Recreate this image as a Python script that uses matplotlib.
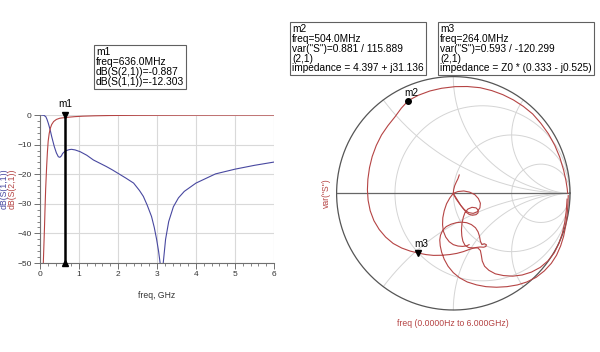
import numpy as np
import matplotlib
matplotlib.use("Agg")
import matplotlib.pyplot as plt
from matplotlib.ticker import MultipleLocator

plt.rcParams['font.family'] = ['Liberation Sans', 'DejaVu Sans']

# dB(S(1,1)), two branches around the null
f_s11_a = [0, 0.1, 0.15, 0.18, 0.213, 0.26, 0.3, 0.367, 0.42, 0.47, 0.51, 0.55, 0.58,
           0.636, 0.68, 0.75, 0.81, 0.9, 1.03, 1.2, 1.37, 1.55, 1.7, 1.85, 2.0, 2.2,
           2.4, 2.55, 2.65, 2.75, 2.86, 2.93, 2.99, 3.04, 3.08]
db_s11_a = [0, -0.1, -0.6, -1.5, -2.8, -5.0, -7.3, -10.7, -12.8, -14.1, -14.3, -13.8, -13.0,
            -12.3, -12.0, -11.7, -11.6, -11.8, -12.4, -13.6, -15.2, -16.4, -17.4, -18.5, -19.7, -21.3,
            -23.0, -25.5, -27.5, -30.5, -34.3, -38.0, -42.0, -46.0, -50.0]
f_s11_b = [3.16, 3.22, 3.3, 3.42, 3.55, 3.7, 4.0, 4.5, 5.0, 5.5, 6.0]
db_s11_b = [-50.0, -42.0, -36.0, -31.0, -28.0, -25.8, -23.0, -19.9, -18.3, -17.0, -15.9]

# dB(S(2,1))
f_s21 = [0.085, 0.1, 0.115, 0.128, 0.145, 0.17, 0.19, 0.21, 0.235, 0.264, 0.3, 0.35, 0.42,
         0.504, 0.57, 0.636, 0.75, 0.9, 1.1, 1.4, 1.8, 2.5, 3.5, 4.5, 6.0]
db_s21 = [-50, -44, -38, -32, -25, -17.5, -12.5, -8.8, -6.3, -4.5, -3.2, -2.2, -1.5,
          -1.1, -0.98, -0.887, -0.72, -0.55, -0.4, -0.27, -0.17, -0.1, -0.06, -0.04, -0.03]

m1_freq = 0.636

# Smith chart traces (reflection plane, re / im)
# outer bottom arc -> hump near centre -> through m3 -> left side -> m2 -> top -> right
tr1_re = [0.985, 0.982, 0.975, 0.963, 0.945, 0.92, 0.885, 0.84, 0.78, 0.71, 0.63, 0.55,
          0.46, 0.37, 0.28, 0.2, 0.12, 0.055, 0.0, -0.045, -0.078, -0.1, -0.112, -0.116,
          -0.11, -0.09, -0.06, -0.02, 0.025, 0.071, 0.115, 0.155, 0.19, 0.212, 0.225,
          0.232, 0.245, 0.265, 0.283, 0.28, 0.26, 0.23, 0.19, 0.14, 0.085, 0.03, -0.03,
          -0.1, -0.17, -0.235, -0.3, -0.37, -0.442, -0.515, -0.58, -0.635, -0.68, -0.712,
          -0.73, -0.736, -0.732, -0.718, -0.695, -0.66, -0.615, -0.56, -0.5, -0.445, -0.386,
          -0.3, -0.2, -0.1, 0.015, 0.12, 0.229, 0.33, 0.425, 0.515, 0.6, 0.68, 0.75, 0.815,
          0.87, 0.912, 0.945, 0.965, 0.976, 0.98]
tr1_im = [-0.02, -0.1, -0.19, -0.28, -0.37, -0.45, -0.53, -0.6, -0.665, -0.72, -0.76, -0.785,
          -0.8, -0.805, -0.8, -0.785, -0.76, -0.725, -0.68, -0.625, -0.565, -0.505, -0.45, -0.4,
          -0.36, -0.315, -0.285, -0.265, -0.252, -0.247, -0.252, -0.268, -0.295, -0.33, -0.37,
          -0.41, -0.44, -0.432, -0.44, -0.455, -0.462, -0.46, -0.465, -0.48, -0.5, -0.515, -0.525,
          -0.531, -0.532, -0.525, -0.512, -0.495, -0.469, -0.43, -0.375, -0.31, -0.235, -0.15,
          -0.06, 0.03, 0.12, 0.22, 0.315, 0.41, 0.5, 0.58, 0.655, 0.73, 0.794,
          0.84, 0.877, 0.9, 0.914, 0.915, 0.905, 0.88, 0.845, 0.8, 0.745, 0.68, 0.6, 0.51,
          0.41, 0.31, 0.2, 0.11, 0.04, 0.0]

# inner bottom arc -> up past the centre -> hook at top
tr2_re = [0.975, 0.968, 0.955, 0.935, 0.905, 0.865, 0.81, 0.745, 0.67, 0.59, 0.51, 0.43,
          0.36, 0.305, 0.268, 0.248, 0.24, 0.232, 0.21, 0.17, 0.13, 0.1, 0.082, 0.073,
          0.07, 0.074, 0.086, 0.1, 0.125, 0.16, 0.195, 0.214, 0.212, 0.195, 0.165, 0.135,
          0.11, 0.08, 0.05, 0.025, 0.008, 0.0, 0.003, 0.012, 0.025, 0.04, 0.051]
tr2_im = [-0.05, -0.15, -0.25, -0.34, -0.43, -0.51, -0.58, -0.635, -0.675, -0.7, -0.71, -0.705,
          -0.69, -0.66, -0.625, -0.58, -0.53, -0.49, -0.468, -0.468, -0.465, -0.445, -0.41, -0.365,
          -0.315, -0.26, -0.205, -0.165, -0.135, -0.12, -0.125, -0.145, -0.168, -0.183, -0.188, -0.18,
          -0.162, -0.125, -0.085, -0.05, -0.02, 0.0, 0.03, 0.065, 0.095, 0.125, 0.157]

# loops around the centre
tr3_re = [0.0, 0.04, 0.09, 0.14, 0.185, 0.215, 0.232, 0.228, 0.205, 0.17, 0.13, 0.095,
          0.065, 0.04, 0.018, 0.0, -0.03, -0.058, -0.078, -0.09, -0.092, -0.085, -0.065,
          -0.035, 0.0, 0.04, 0.08, 0.115, 0.135]
tr3_im = [0.0, 0.015, 0.02, 0.01, -0.012, -0.045, -0.085, -0.125, -0.158, -0.172, -0.165, -0.14,
          -0.105, -0.065, -0.03, 0.0, -0.04, -0.09, -0.15, -0.21, -0.27, -0.325, -0.375,
          -0.415, -0.44, -0.452, -0.455, -0.45, -0.44]

m2_mag, m2_ang = 0.881, 115.889
m3_mag, m3_ang = 0.593, -120.299

r_circles = [1/3, 1, 3]
x_arcs = [0.5, 1, 2]

RED = '#b54444'
BLUE = '#4848a0'
W, H = 600, 352

fig = plt.figure(figsize=(6, 3.52), dpi=100)

def px_rect(l, t, w, h):
    return [l / W, 1 - (t + h) / H, w / W, h / H]

def ftext(x, y, s, **kw):
    return fig.text(x / W, 1 - y / H, s, **kw)

# ---- left: dB plot ----
ax = fig.add_axes(px_rect(40, 115, 234, 148))
ax.plot(f_s11_a, db_s11_a, color=BLUE, lw=0.8)
ax.plot(f_s11_b, db_s11_b, color=BLUE, lw=0.8)
ax.plot(f_s21, db_s21, color=RED, lw=0.8)
ax.set_xlim(0, 6)
ax.set_ylim(-50, 0)
ax.xaxis.set_major_locator(MultipleLocator(1))
ax.xaxis.set_minor_locator(MultipleLocator(0.2))
ax.yaxis.set_major_locator(MultipleLocator(10))
ax.yaxis.set_minor_locator(MultipleLocator(2))
ax.grid(True, color='#d9d9d9', lw=0.8)
ax.set_axisbelow(True)
for s in ['top', 'right']:
    ax.spines[s].set_visible(False)
for s in ['left', 'bottom']:
    ax.spines[s].set_color('#707070')
    ax.spines[s].set_linewidth(0.8)
ax.tick_params(which='major', length=4, width=0.7, color='#707070', labelsize=6, pad=2,
               labelcolor='#333333')
ax.tick_params(which='minor', length=2.5, width=0.6, color='#707070')
ax.set_xlabel('freq, GHz', fontsize=6.2, color='#333333', labelpad=9)

ax.plot([m1_freq, m1_freq], [0, -50], color='black', lw=1.8, zorder=5)
ax.plot([m1_freq], [0], marker='v', color='black', ms=5, clip_on=False, zorder=6)
ax.plot([m1_freq], [-50], marker='^', color='black', ms=5, clip_on=False, zorder=6)
ax.annotate('m1', (m1_freq, 0), xytext=(0, 4), textcoords='offset points',
            ha='center', va='bottom', fontsize=7.2)

ftext(4.5, 189, 'dB(S(1,1))', rotation=90, color=BLUE, fontsize=6.3, ha='center', va='center')
ftext(12, 189, 'dB(S(2,1))', rotation=90, color=RED, fontsize=6.3, ha='center', va='center')

# ---- right: Smith chart ----
cx, cy, R = 453.3, 193.3, 116.7
half = 118
sm = fig.add_axes(px_rect(cx - half, cy - half, 2 * half, 2 * half))
lim = half / R
sm.set_xlim(-lim, lim)
sm.set_ylim(-lim, lim)
sm.axis('off')

t = np.linspace(0, 2 * np.pi, 400)
grid_kw = dict(color='#d4d4d4', lw=0.7, zorder=1)
for r in r_circles:
    c, rad = r / (1 + r), 1 / (1 + r)
    sm.plot(c + rad * np.cos(t), rad * np.sin(t), **grid_kw)
rr = np.concatenate([[0], np.geomspace(1e-3, 1e4, 600)])
for x in x_arcs:
    for sx in (1, -1):
        z = rr + 1j * sx * x
        g = (z - 1) / (z + 1)
        sm.plot(g.real, g.imag, **grid_kw)
sm.plot(np.cos(t), np.sin(t), color='#555555', lw=0.9, zorder=2)
sm.plot([-1, 1], [0, 0], color='#666666', lw=0.9, zorder=2)

for re_, im_ in [(tr1_re, tr1_im), (tr2_re, tr2_im), (tr3_re, tr3_im)]:
    sm.plot(re_, im_, color=RED, lw=0.8, zorder=3)

g2 = m2_mag * np.exp(1j * np.deg2rad(m2_ang))
g3 = m3_mag * np.exp(1j * np.deg2rad(m3_ang))
sm.plot([g2.real], [g2.imag], 'o', color='black', ms=4, zorder=5)
sm.plot([g3.real], [g3.imag], 'v', color='black', ms=4.5, zorder=5)
sm.annotate('m2', (g2.real, g2.imag), xytext=(2, 2), textcoords='offset points',
            ha='center', va='bottom', fontsize=7.2)
sm.annotate('m3', (g3.real, g3.imag), xytext=(2, 3), textcoords='offset points',
            ha='center', va='bottom', fontsize=7.2)

ftext(326, 193, 'var("S")', rotation=90, color=RED, fontsize=6.2, ha='center', va='center')
ftext(453, 323, 'freq (0.0000Hz to 6.000GHz)', color=RED, fontsize=6.2, ha='center', va='center')

# ---- marker readouts ----
box = dict(boxstyle='square,pad=0.2', fc='white', ec='#606060', lw=0.8)
ftext(96, 47, 'm1\nfreq=636.0MHz\ndB(S(2,1))=-0.887\ndB(S(1,1))=-12.303',
      fontsize=7.4, va='top', ha='left', linespacing=0.98, bbox=box)
ftext(292, 24, 'm2\nfreq=504.0MHz\nvar("S")=0.881 / 115.889\n(2,1)\nimpedance = 4.397 + j31.136',
      fontsize=7.3, va='top', ha='left', linespacing=0.98, bbox=box)
ftext(440, 24, 'm3\nfreq=264.0MHz\nvar("S")=0.593 / -120.299\n(2,1)\nimpedance = Z0 * (0.333 - j0.525)',
      fontsize=7.3, va='top', ha='left', linespacing=0.98, bbox=box)

fig.savefig('out.png', dpi=100)
